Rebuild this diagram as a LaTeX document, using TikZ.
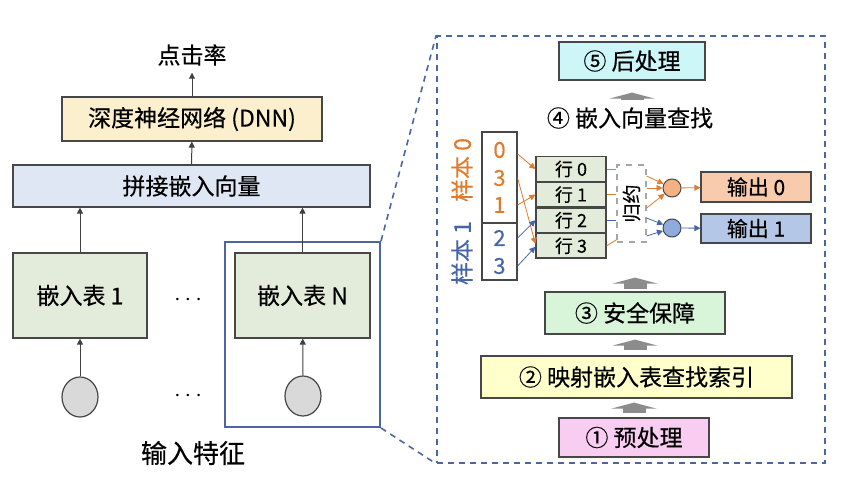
\documentclass[tikz,border=0pt]{standalone}
\usepackage{fontspec}
\setmainfont{Noto Sans CJK SC}[FakeBold=0.4]
\usepackage{xcolor}
\usepackage{tikz}
\usetikzlibrary{arrows.meta,positioning,calc,shapes.geometric}
\definecolor{zblue}{HTML}{4B66A3}
\definecolor{zorange}{HTML}{E07B2C}
\definecolor{sblue}{HTML}{4666AA}
\definecolor{fdnn}{HTML}{FBEFCD}
\definecolor{fcat}{HTML}{DEE7F3}
\definecolor{ftab}{HTML}{E3EBDA}
\definecolor{fpost}{HTML}{CCF6F7}
\definecolor{fsec}{HTML}{D8F5DA}
\definecolor{fmap}{HTML}{FFFFCC}
\definecolor{fpre}{HTML}{F9CCF1}
\definecolor{fodot}{HTML}{F4B183}
\definecolor{fbdot}{HTML}{8FAADC}
\definecolor{fout0}{HTML}{F8CBAD}
\definecolor{fout1}{HTML}{B4C7E7}
\tikzset{
  px/.style={x=0.5pt, y=-0.5pt, font=\fontsize{11.5}{13}\selectfont},
  e box/.style={draw=black!72, line width=0.6pt, align=center, inner sep=0pt},
  e dnn/.style={e box, fill=fdnn},
  e cat/.style={e box, fill=fcat},
  e tab/.style={e box, fill=ftab},
  e in/.style={ellipse, draw=black!72, line width=0.6pt, fill=black!15, minimum width=18pt, minimum height=20pt, inner sep=0pt},
  e step/.style={e box, minimum height=21pt},
  e row/.style={e box, fill=ftab, minimum width=35pt, minimum height=12.2pt, font=\fontsize{9}{10}\selectfont},
  e idx/.style={e box, fill=white, minimum width=17.5pt},
  e num/.style={font=\fontsize{11}{12}\selectfont},
  e dot/.style={circle, draw=black!72, line width=0.5pt, minimum size=9pt, inner sep=0pt},
  e out/.style={e box, minimum width=55pt, font=\fontsize{10.5}{12}\selectfont},
  e red/.style={draw=black!35, dashed, line width=0.6pt, fill=white, minimum width=14.5pt, minimum height=38.5pt, inner sep=0pt},
  e arr/.style={-{Triangle[length=3pt, width=3pt]}, draw=black!75, line width=0.5pt},
  o arr/.style={-{Triangle[length=3pt, width=3pt]}, draw=zorange, line width=0.4pt},
  b arr/.style={-{Triangle[length=3pt, width=3pt]}, draw=sblue, line width=0.4pt},
  blk/.style={-{Triangle[length=3pt, width=22.5pt]}, draw=black!45, line width=11.5pt},
  z line/.style={draw=zblue, line width=0.8pt, dash pattern=on 3pt off 2.5pt},
}
\begin{document}
\begin{tikzpicture}[px]
\useasboundingbox[fill=white] (0,0) rectangle (844,497);
% left: the whole model
\node (ctr) at (192,55) {点击率};
\node[e dnn, minimum width=130pt, minimum height=22pt] (dnn) at (192,119) {深度神经网络 (DNN)};
\node[e cat, minimum width=178.5pt, minimum height=21pt] (cat) at (191.5,186) {拼接嵌入向量};
\node[e tab, minimum width=67pt, minimum height=42.5pt] (emb1) at (80,295.5) {嵌入表 1};
\node[e tab, minimum width=67.5pt, minimum height=42.5pt] (embN) at (302.5,295.5) {嵌入表 N};
\node (dots1) at (188,300) {$\cdots$};
\node (dots2) at (188,396) {$\cdots$};
\node[e in] (in1) at (80,397) {};
\node[e in] (inN) at (303,396) {};
\node[draw=zblue, line width=1pt, minimum width=77.5pt, minimum height=92.5pt] (focus) at (302.5,334.5) {};
\node[font=\fontsize{13}{15}\selectfont] (feat) at (193,453) {输入特征};
\draw[e arr] (dnn) -- (ctr);
\draw[e arr] (cat) -- (dnn);
\draw[e arr] (emb1.north) -- (emb1.north |- cat.south);
\draw[e arr] (embN.north) -- (embN.north |- cat.south);
\draw[e arr] (in1) -- (emb1);
\draw[e arr] (inN) -- (embN);
% right: zoomed-in steps
\node[z line, minimum width=194pt, minimum height=213.5pt] (zoom) at (631,249.5) {};
\draw[z line] (focus.north east) -- (zoom.north west);
\draw[z line] (focus.south east) -- (zoom.south west);
\node[e step, fill=fpost, minimum width=73pt, minimum height=19pt] (post) at (632,61) {⑤ 后处理};
\node[inner sep=0pt] (look) at (630,118) {④ 嵌入向量查找};
\node[e idx, minimum height=45.5pt] (idxA) at (499.5,177.5) {};
\node[e idx, minimum height=28.5pt] (idxB) at (499.5,251.5) {};
\node[e num, text=zorange] (n0) at (499.5,150) {0};
\node[e num, text=zorange] (n1) at (499.5,178) {3};
\node[e num, text=zorange] (n2) at (499.5,205) {1};
\node[e num, text=sblue] (n3) at (499.5,238) {2};
\node[e num, text=sblue] (n4) at (499.5,266) {3};
\node[rotate=90, text=zorange] (s0) at (462,170) {样本 0};
\node[rotate=90, text=sblue] (s1) at (462,253) {样本 1};
\node[e row] (r0) at (571,169) {行 0};
\node[e row, below=0pt of r0] (r1) {行 1};
\node[e row, below=0pt of r1] (r2) {行 2};
\node[e row, below=0pt of r2] (r3) {行 3};
\node[e red] (red) at (631.5,203.5) {};
\node[rotate=90, font=\fontsize{9.5}{10}\selectfont] (redt) at (red) {归约};
\node[e dot, fill=fodot] (oc) at (672,188) {};
\node[e dot, fill=fbdot] (bc) at (672,228) {};
\node[e out, fill=fout0, minimum height=15pt] (out0) at (756,187) {输出 0};
\node[e out, fill=fout1, minimum height=14.5pt] (out1) at (756,228.5) {输出 1};
\node[e step, fill=fsec, minimum width=90pt] (sec) at (635,313) {③ 安全保障};
\node[e step, fill=fmap, minimum width=155.5pt] (map) at (636.5,377) {② 映射嵌入表查找索引};
\node[e step, fill=fpre, minimum width=75pt, minimum height=19.5pt] (pre) at (634,437.5) {① 预处理};
% index -> rows
\draw[o arr] ([yshift=-2pt]n0 -| idxA.east) -- (r0.west);
\draw[o arr] (n1 -| idxA.east) -- ([yshift=1pt]r3.west);
\draw[o arr] (n2 -| idxA.east) -- (r1.west);
\draw[b arr] (n3 -| idxB.east) -- (r2.west);
\draw[b arr] (n4 -| idxB.east) -- ([yshift=-0.5pt]r3.west);
% rows -> reduce -> outputs
\draw[zorange, line width=0.4pt] (r0.east) -- (r0.east -| red.west);
\draw[zorange, line width=0.4pt] (r1.east) -- (r1.east -| red.west);
\draw[sblue, line width=0.4pt] (r2.east) -- (r2.east -| red.west);
\draw[zorange, line width=0.4pt] (r3.east) -- ([yshift=3pt]r3.east -| red.west);
\draw[o arr] ([yshift=6pt]oc -| red.east) -- (oc);
\draw[o arr] (oc -| red.east) -- (oc);
\draw[o arr] ([yshift=-10pt]oc -| red.east) -- (oc);
\draw[b arr] ([yshift=5pt]bc -| red.east) -- (bc);
\draw[b arr] ([yshift=-4pt]bc -| red.east) -- (bc);
\draw[o arr] (oc) -- (out0);
\draw[b arr] (bc) -- (out1);
% grey step arrows
\draw[blk, shorten <=2pt, shorten >=2pt] (pre.north) -- (pre.north |- map.south);
\draw[blk, shorten <=2.5pt, shorten >=2.5pt] (sec.south |- map.north) -- (sec.south);
\draw[blk, shorten <=1pt, shorten >=9.5pt] (sec.north) -- (sec.north |- r3.south);
\draw[blk, shorten <=3.5pt, shorten >=6pt] (post.south |- look.north) -- (post.south);
\end{tikzpicture}
\end{document}
